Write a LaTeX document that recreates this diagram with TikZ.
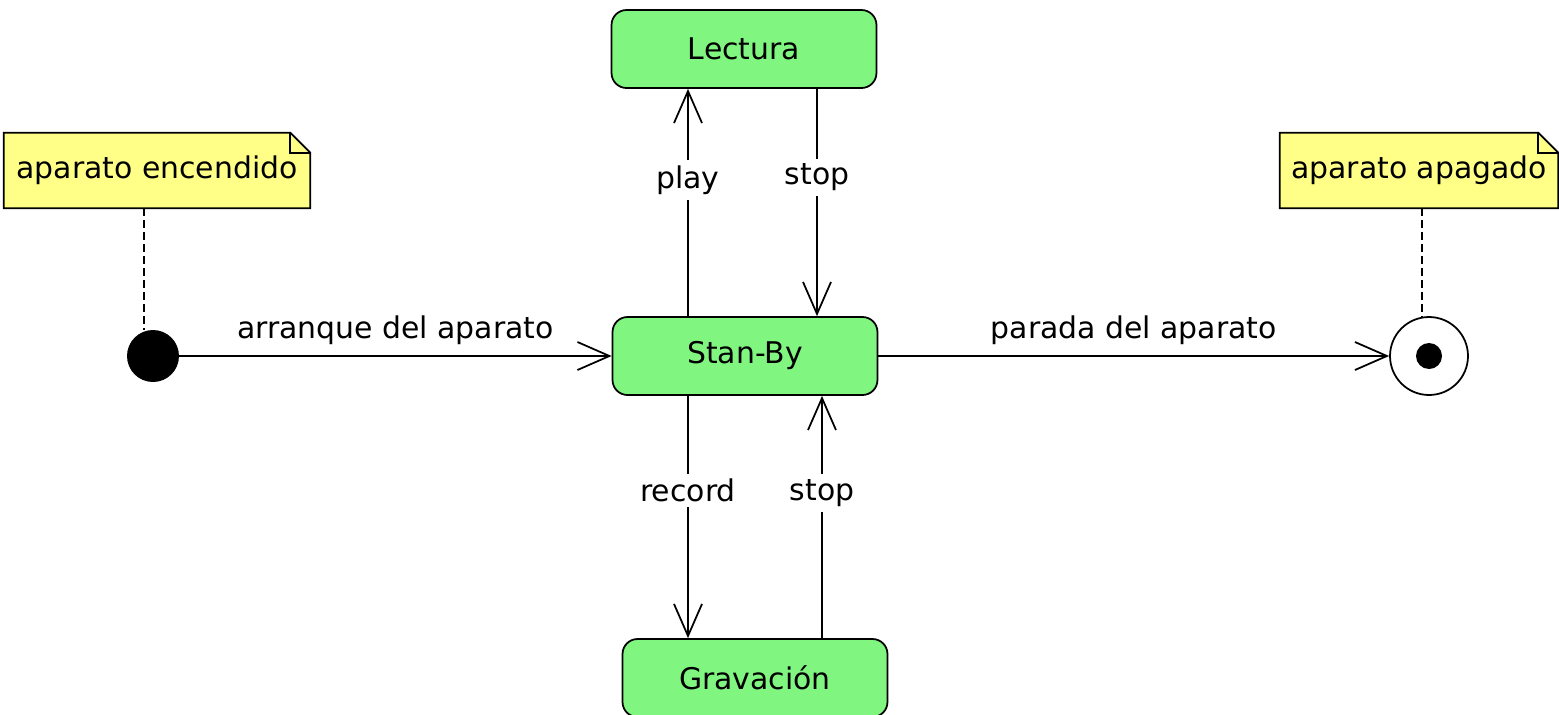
\documentclass[tikz,border=0pt]{standalone}
\usepackage{fontspec}
\setmainfont{DejaVu Sans}
\usepackage{tikz}
\usetikzlibrary{arrows.meta,backgrounds}

\definecolor{stategreen}{RGB}{128,246,128}
\definecolor{noteyellow}{RGB}{255,255,136}

\tikzset{
  state/.style={rectangle,draw,fill=stategreen,line width=1pt,rounded corners=0.3cm,
                minimum width=5.3cm,minimum height=1.56cm},
  note/.style={rectangle,minimum height=1.5cm,inner sep=0pt},
  notebody/.style={draw,fill=noteyellow,line width=1pt},
  notelink/.style={line width=1pt,dash pattern=on 4.5pt off 2.3pt},
  trans/.style={line width=1pt,-{Straight Barb[length=0.64cm,width=0.56cm]}},
  lbl/.style={fill=white,inner sep=3pt}
}

\begin{document}
\begin{tikzpicture}[x=0.02cm,y=-0.02cm,font=\fontsize{17}{20}\selectfont]
\useasboundingbox (0,0) rectangle (1559,714);
% states
\node (lectura)   at (744,49)  [state] {Lectura};
\node (standby)   at (745,356) [state] {Stan-By};
\node (gravacion) at (755,678) [state] {Gravación};
% pseudo states
\node (start) at (153,356) [circle,fill,inner sep=0pt,minimum size=1.04cm] {};
\node (stop)  at (1429,356) [circle,draw,line width=1pt,inner sep=0pt,minimum size=1.56cm] {};
\node (stopDot) at (stop) [circle,fill,inner sep=0pt,minimum size=0.52cm] {};
% notes
\node (noteOn)  at (157,170.5)  [note,minimum width=6.12cm] {aparato encendido};
\node (noteOff) at (1419,170.5) [note,minimum width=5.56cm] {aparato apagado};
\begin{scope}[on background layer]
\foreach \n in {noteOn,noteOff} {
  \path [notebody] (\n.south west) -- (\n.north west) -- ([xshift=-0.4cm]\n.north east)
        -- ([yshift=-0.4cm]\n.north east) -- (\n.south east) -- cycle;
  \draw [line width=1pt] ([xshift=-0.4cm]\n.north east) |- ([yshift=-0.4cm]\n.north east);
}
\end{scope}
\coordinate (onLink)  at (144,330);
\coordinate (offLink) at (1422,317);
\draw [notelink] (noteOn.south -| onLink) -- (onLink);
\draw [notelink] (noteOff.south -| offLink) -- (offLink);
% vertical transitions
\coordinate (playX) at (688,0);
\coordinate (stopX) at (817,0);
\coordinate (recX)  at (688,0);
\coordinate (backX) at (822,0);
\draw [trans] (standby.north -| playX) to node [lbl,pos=0.6] {play} (lectura.south -| playX);
\draw [trans] (lectura.south -| stopX) to node [lbl,pos=0.39] {stop} (standby.north -| stopX);
\draw [trans] (standby.south -| recX) to node [lbl,pos=0.39] {record} (gravacion.north -| recX);
\draw [trans] (gravacion.north -| backX) to node [lbl,pos=0.6] {stop} (standby.south -| backX);
% horizontal transitions
\draw [trans] (start) to node [above,inner sep=6pt] {arranque del aparato} (standby);
\draw [trans] (standby) to node [above,inner sep=6pt] {parada del aparato} (stop);
\end{tikzpicture}
\end{document}
